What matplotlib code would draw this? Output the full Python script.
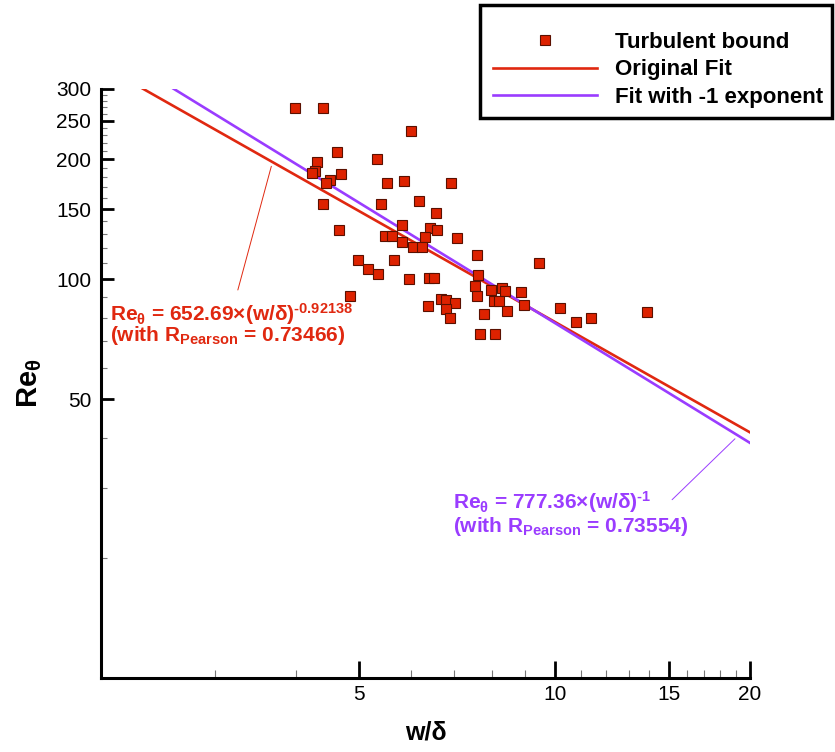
import numpy as np
import matplotlib
matplotlib.use("Agg")
import matplotlib.pyplot as plt
from matplotlib.patches import Rectangle
from matplotlib.ticker import FixedLocator, FixedFormatter, NullFormatter

plt.rcParams['font.family'] = ['Liberation Sans', 'DejaVu Sans']
plt.rcParams['mathtext.fontset'] = 'custom'
plt.rcParams['mathtext.rm'] = 'Liberation Sans:bold'
plt.rcParams['mathtext.it'] = 'Liberation Sans:bold'
plt.rcParams['mathtext.bf'] = 'Liberation Sans:bold'

# Measured turbulent-bound points: width ratio w/delta vs momentum-thickness Reynolds number
w_delta = [3.98, 4.40, 6.01, 4.62, 4.30, 5.32, 4.27, 4.23, 4.68, 4.50,
           4.44, 5.52, 5.85, 6.92, 4.40, 5.41, 6.17, 6.56, 4.66, 5.81,
           6.43, 6.58, 5.47, 5.61, 5.81, 6.32, 6.04, 6.24, 7.08, 4.97,
           5.15, 5.34, 5.66, 7.59, 5.96, 6.40, 6.52, 4.84, 7.61, 9.46,
           7.54, 7.58, 7.97, 8.29, 8.38, 8.86, 8.07, 8.22, 8.44, 8.97,
           7.77, 10.19, 10.78, 11.38, 13.86, 7.67, 8.10, 6.69, 6.81, 7.02,
           6.38, 6.80, 6.90]
re_theta = [269.2, 269.2, 234.9, 208.8, 196.5, 199.9, 186.9, 184.2, 183.6, 177.4,
            174.3, 174.3, 176.4, 174.3, 154.4, 154.2, 157.3, 146.4, 133.1, 136.6,
            134.2, 133.1, 128.4, 128.4, 124.2, 127.4, 120.3, 120.3, 127.1, 111.9,
            106.0, 103.1, 111.9, 115.1, 100.0, 100.9, 100.9, 91.0, 102.5, 110.1,
            96.2, 90.8, 94.0, 95.1, 93.2, 93.1, 88.35, 88.35, 83.05, 86.0,
            81.85, 84.9, 78.0, 79.8, 82.95, 72.86, 72.86, 89.1, 88.7, 87.1,
            85.9, 84.1, 80.1]

# Power-law fits Re_theta = C * (w/delta)^n
fit_orig_coef, fit_orig_exp, fit_orig_r = 652.69, -0.92138, 0.73466
fit_unit_coef, fit_unit_exp, fit_unit_r = 777.36, -1, 0.73554

x_major = [5, 10, 15, 20]
x_minor = [3, 4, 6, 7, 8, 9, 11, 12, 13, 14, 16, 17, 18, 19]
y_major = [50, 100, 150, 200, 250, 300]
y_minor = [20, 30, 40, 60, 70, 80, 90, 110, 120, 130, 140, 160, 170, 180, 190,
           210, 220, 230, 240, 260, 270, 280, 290]

RED = '#e02810'
PURPLE = '#9a3cff'
MARK_FACE = '#dd2200'
MARK_EDGE = '#5a1000'

W, H = 835, 752
fig = plt.figure(figsize=(W / 100, H / 100), dpi=100)
ax = fig.add_axes([101 / W, 1 - 678 / H, 649 / W, 589 / H])
ax.set_xscale('log')
ax.set_yscale('log')
ax.set_xlim(2, 20)
ax.set_ylim(10, 300)

xs = np.geomspace(2, 20, 200)
ax.plot(xs, fit_orig_coef * xs ** fit_orig_exp, color=RED, lw=1.9,
        label='Original Fit', zorder=3)
ax.plot(xs, fit_unit_coef * xs ** float(fit_unit_exp), color=PURPLE, lw=1.9,
        label='Fit with -1 exponent', zorder=3)
ax.plot(w_delta, re_theta, 's', ms=7.2, mfc=MARK_FACE, mec=MARK_EDGE,
        mew=0.8, label='Turbulent bound', zorder=4)

# axes styling
for side in ('top', 'right'):
    ax.spines[side].set_visible(False)
for side in ('left', 'bottom'):
    ax.spines[side].set_linewidth(2.2)

ax.xaxis.set_major_locator(FixedLocator(x_major))
ax.xaxis.set_major_formatter(FixedFormatter([str(v) for v in x_major]))
ax.xaxis.set_minor_locator(FixedLocator(x_minor))
ax.xaxis.set_minor_formatter(NullFormatter())
ax.yaxis.set_major_locator(FixedLocator(y_major))
ax.yaxis.set_major_formatter(FixedFormatter([str(v) for v in y_major]))
ax.yaxis.set_minor_locator(FixedLocator(y_minor))
ax.yaxis.set_minor_formatter(NullFormatter())

ax.tick_params(axis='both', which='major', direction='in', width=2,
               labelsize=15, colors='black')
ax.tick_params(axis='x', which='major', length=12, pad=5)
ax.tick_params(axis='y', which='major', length=9, pad=7)
ax.tick_params(axis='both', which='minor', direction='in', width=0.8,
               color='#777777')
ax.tick_params(axis='x', which='minor', length=6)
ax.tick_params(axis='y', which='minor', length=4.5)

ax.set_xlabel('w/δ', fontsize=18, fontweight='bold', labelpad=12)
ax.set_ylabel(r'Re$_{θ}$', fontsize=21, fontweight='bold', labelpad=9)

# fit equations with leader lines
ax.annotate('', xy=(3.66, 192), xytext=(3.25, 94.0),
            arrowprops=dict(arrowstyle='-', color=RED, lw=0.7,
                            shrinkA=0, shrinkB=0))
ax.text(2.065, 78.6,
        r'Re$_{θ}$ = %.2f×(w/δ)$^{\text{%.5f}}$' % (fit_orig_coef, fit_orig_exp),
        color=RED, fontsize=15, fontweight='bold', va='baseline', ha='left')
ax.text(2.065, 70.0,
        r'(with R$_{\mathrm{Pearson}}$ = %.5f)' % fit_orig_r,
        color=RED, fontsize=15, fontweight='bold', va='baseline', ha='left')

ax.annotate('', xy=(18.96, 39.8), xytext=(15.17, 28.0),
            arrowprops=dict(arrowstyle='-', color=PURPLE, lw=0.7,
                            shrinkA=0, shrinkB=0))
ax.text(6.97, 26.5,
        r'Re$_{θ}$ = %.2f×(w/δ)$^{\text{%d}}$' % (fit_unit_coef, fit_unit_exp),
        color=PURPLE, fontsize=15, fontweight='bold', va='baseline', ha='left')
ax.text(6.97, 23.3,
        r'(with R$_{\mathrm{Pearson}}$ = %.5f)' % fit_unit_r,
        color=PURPLE, fontsize=15, fontweight='bold', va='baseline', ha='left')

# legend: entries without frame, boxed by a separate rectangle
handles, labels = ax.get_legend_handles_labels()
order = [2, 0, 1]
leg = ax.legend([handles[i] for i in order], [labels[i] for i in order],
                loc='center left', bbox_to_anchor=(493 / W, 1 - 70 / H),
                bbox_transform=fig.transFigure, borderaxespad=0, borderpad=0,
                prop={'weight': 'bold', 'size': 16}, numpoints=1,
                handlelength=4.7, handletextpad=0.8,
                labelspacing=0.28, frameon=False)
fig.add_artist(Rectangle((480 / W, 1 - 118 / H), 352 / W, 113 / H,
                         transform=fig.transFigure, fill=False,
                         edgecolor='black', lw=2.5, zorder=5))

fig.savefig('out.png', dpi=100)
